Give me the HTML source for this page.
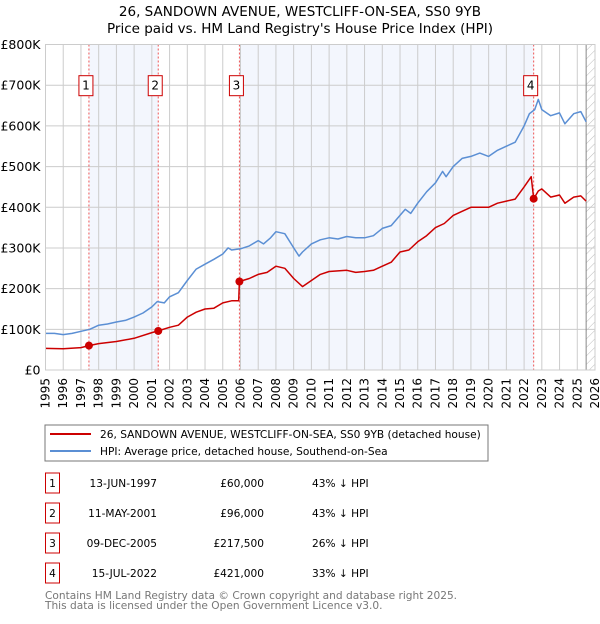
<!DOCTYPE html>
<html><head><meta charset="utf-8"><style>
body{margin:0;background:#fff;font-family:"DejaVu Sans","Liberation Sans",sans-serif;}
svg text{font-family:"DejaVu Sans","Liberation Sans",sans-serif;}
</style></head><body>
<svg id="c" width="600" height="620" xmlns="http://www.w3.org/2000/svg">
<defs><pattern id="hatch" width="6" height="6" patternUnits="userSpaceOnUse" patternTransform="rotate(45)"><line x1="0" y1="0" x2="0" y2="6" stroke="#bbb" stroke-width="1"/></pattern></defs>
<text x="300" y="16" text-anchor="middle" font-size="13.5">26, SANDOWN AVENUE, WESTCLIFF-ON-SEA, SS0 9YB</text>
<text x="300" y="33" text-anchor="middle" font-size="13.5">Price paid vs. HM Land Registry's House Price Index (HPI)</text>
<g id="plot"></g>
<rect x="45" y="425" width="443" height="36" fill="#fff" stroke="#777"/>
<line x1="50" y1="434" x2="91" y2="434" stroke="#cc0000" stroke-width="2"/>
<text x="100" y="438" font-size="10.6">26, SANDOWN AVENUE, WESTCLIFF-ON-SEA, SS0 9YB (detached house)</text>
<line x1="50" y1="451" x2="91" y2="451" stroke="#5b8fd4" stroke-width="2"/>
<text x="100" y="455" font-size="10.6">HPI: Average price, detached house, Southend-on-Sea</text>
<g id="table"></g>
<text x="45" y="599" font-size="10.6" fill="#777">Contains HM Land Registry data © Crown copyright and database right 2025.</text>
<text x="45" y="609" font-size="10.6" fill="#777">This data is licensed under the Open Government Licence v3.0.</text>
</svg>
<script>
const yearTicks=[1995,1996,1997,1998,1999,2000,2001,2002,2003,2004,2005,2006,2007,2008,2009,2010,2011,2012,2013,2014,2015,2016,2017,2018,2019,2020,2021,2022,2023,2024,2025,2026];
const valueTicks=[0,100,200,300,400,500,600,700,800];
const valueTickLabels=["£0","£100K","£200K","£300K","£400K","£500K","£600K","£700K","£800K"];
const hpiX=[1995,1995.5,1996,1996.5,1997,1997.5,1998,1998.5,1999,1999.5,2000,2000.5,2001,2001.3,2001.7,2002,2002.5,2003,2003.5,2004,2004.5,2005,2005.3,2005.5,2006,2006.5,2007,2007.3,2007.7,2008,2008.5,2009,2009.3,2009.5,2010,2010.5,2011,2011.5,2012,2012.5,2013,2013.5,2014,2014.5,2015,2015.3,2015.6,2016,2016.5,2017,2017.4,2017.6,2018,2018.5,2019,2019.5,2020,2020.5,2021,2021.5,2022,2022.3,2022.6,2022.8,2023,2023.5,2024,2024.3,2024.8,2025.2,2025.5];
const hpiY=[90,90,87,90,95,100,110,113,118,122,130,140,155,168,165,180,190,220,248,260,272,285,300,295,298,305,318,310,325,340,335,300,280,290,310,320,325,322,328,325,325,330,348,355,380,395,385,410,438,460,488,475,500,520,525,533,525,540,550,560,600,630,640,665,640,625,632,605,630,635,610];
const ppX=[1995,1996,1997,1997.45,1998,1999,2000,2001,2001.36,2002,2002.5,2003,2003.5,2004,2004.5,2005,2005.5,2005.9,2005.94,2006.5,2007,2007.5,2008,2008.5,2009,2009.5,2010,2010.5,2011,2012,2012.5,2013,2013.5,2014,2014.5,2015,2015.5,2016,2016.5,2017,2017.5,2018,2018.5,2019,2020,2020.5,2021,2021.5,2022,2022.4,2022.54,2022.8,2023,2023.5,2024,2024.3,2024.8,2025.2,2025.5];
const ppY=[53,52,55,60,65,70,78,92,96,105,110,130,142,150,152,165,170,170,217.5,225,235,240,255,250,225,205,220,235,242,245,240,242,245,255,265,290,295,315,330,350,360,380,390,400,400,410,415,420,450,475,421,440,445,425,430,410,425,428,415];
const saleX=[1997.45,2001.36,2005.94,2022.54];
const saleY=[60,96,217.5,421];
const saleLabels=["1","2","3","4"];
const saleDates=["13-JUN-1997","11-MAY-2001","09-DEC-2005","15-JUL-2022"];
const salePrices=["£60,000","£96,000","£217,500","£421,000"];
const saleHpi=["43% ↓ HPI","43% ↓ HPI","26% ↓ HPI","33% ↓ HPI"];

const NS="http://www.w3.org/2000/svg";
const X0=45.5,X1=595,Y0=370,Y1=44.5;
const xs=v=>X0+(v-1995)/31*(X1-X0);
const ys=v=>Y0-v/800*(Y0-Y1);
const plot=document.getElementById('plot');
function mk(tag,attrs,parent){const e=document.createElementNS(NS,tag);for(const k in attrs)e.setAttribute(k,attrs[k]);(parent||plot).appendChild(e);return e;}
for(let i=0;i<saleX.length;i+=2){
  const r=mk('rect',{x:xs(saleX[i]),y:Y1,width:xs(saleX[i+1]||2025.5)-xs(saleX[i]),height:Y0-Y1,fill:'#f0f4fd',opacity:0.8});
  
  
}
const hx=xs(2025.5);
const hr=mk('rect',{x:hx,y:Y1,width:X1-hx,height:Y0-Y1,fill:'url(#hatch)'});


yearTicks.forEach(y=>{
  const l=mk('line',{x1:xs(y),x2:xs(y),y1:Y1,y2:Y0,stroke:'#ccc','stroke-width':1});
  
  
  const t=mk('text',{transform:`translate(${xs(y)+4},${Y0+8}) rotate(-90)`,'text-anchor':'end','font-size':12});
  t.textContent=y;
  
  
});
valueTicks.forEach((v,i)=>{
  const l=mk('line',{x1:X0,x2:X1,y1:ys(v),y2:ys(v),stroke:'#ccc','stroke-width':1});
  
  
  const t=mk('text',{x:X0-5,y:ys(v)+4.5,'text-anchor':'end','font-size':12.5});
  t.textContent=valueTickLabels[i];
  
  
});
const vl=mk('line',{x1:hx,x2:hx,y1:Y1,y2:Y0,stroke:'#888','stroke-width':1});


saleX.forEach((s,i)=>{
  const l=mk('line',{x1:xs(s),x2:xs(s),y1:Y1,y2:Y0,stroke:'#ee5555','stroke-width':1,'stroke-dasharray':'2,2'});
  
  
  const b=mk('rect',{x:xs(s)-10,y:ys(700)-9.5,width:14,height:20,fill:'#fff',stroke:'#cc0000'});
  
  
  const t=mk('text',{x:xs(s)-3,y:ys(700)+4.5,'text-anchor':'middle','font-size':12});
  t.textContent=saleLabels[i];
  
  
});
function path(X,Y,col,name){
  const d=X.map((x,i)=>(i?'L':'M')+xs(x).toFixed(1)+','+ys(Y[i]).toFixed(1)).join('');
  const p=mk('path',{d:d,fill:'none',stroke:col,'stroke-width':1.5,'stroke-linejoin':'round'});
  
  
}
path(hpiX,hpiY,'#5b8fd4','hpi-line');
path(ppX,ppY,'#cc0000','price-paid-line');
saleX.forEach((s,i)=>{
  const c=mk('circle',{cx:xs(s),cy:ys(saleY[i]),r:4,fill:'#cc0000'});
  
  
});
const ax=mk('rect',{x:X0,y:Y1,width:X1-X0,height:Y0-Y1,fill:'none',stroke:'#ccc'});


const tb=document.getElementById('table');
saleLabels.forEach((lab,i)=>{
  const y=483+i*30;
  const b=mk('rect',{x:45.5,y:y-10,width:14,height:20,fill:'#fff',stroke:'#cc0000'},tb);
  
  
  const t=mk('text',{x:52.5,y:y+4,'text-anchor':'middle','font-size':10.6},tb);t.textContent=lab;
  
  
  const d=mk('text',{x:157,y:y+4,'text-anchor':'end','font-size':10.6},tb);d.textContent=saleDates[i];
  
  
  const p=mk('text',{x:264,y:y+4,'text-anchor':'end','font-size':10.6},tb);p.textContent=salePrices[i];
  
  
  const h=mk('text',{x:312,y:y+4,'font-size':10.6},tb);h.textContent=saleHpi[i];
  
  
});
</script>
</body></html>
